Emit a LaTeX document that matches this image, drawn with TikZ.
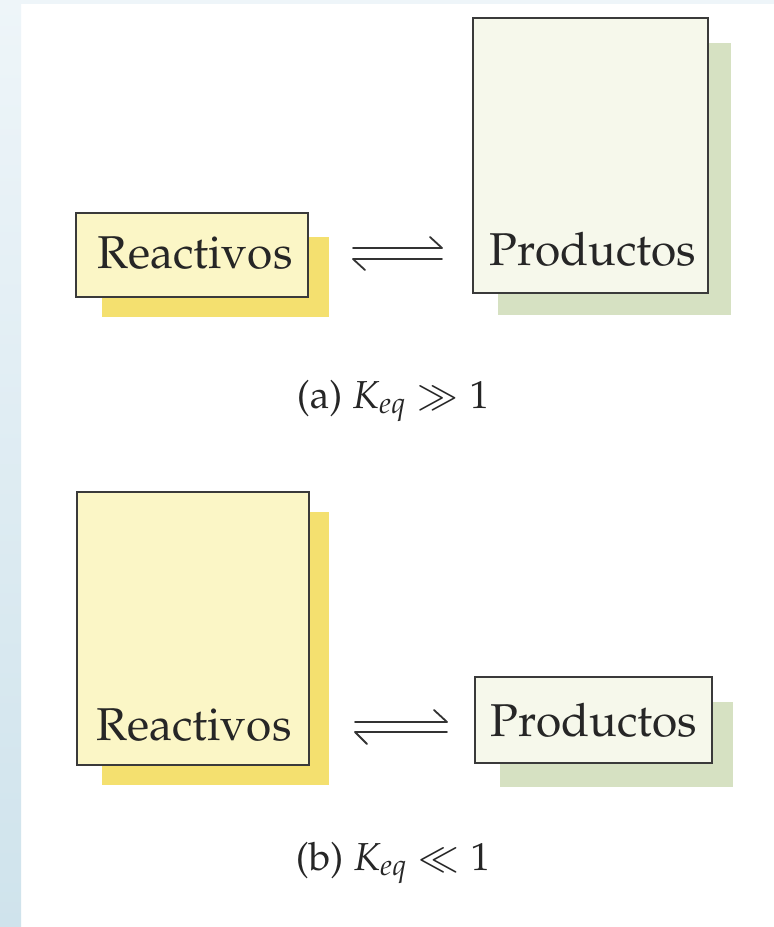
\documentclass[tikz,border=0pt]{standalone}
\usepackage[T1]{fontenc}
\usepackage{mathpazo}
\definecolor{reacfill}{HTML}{FBF6C6}
\definecolor{reacshadow}{HTML}{F4E06F}
\definecolor{prodfill}{HTML}{F6F8EB}
\definecolor{prodshadow}{HTML}{D6E1C2}
\definecolor{framecol}{HTML}{3A3A3A}
\definecolor{stripTop}{HTML}{EEF5F9}
\definecolor{stripBot}{HTML}{CFE3EC}
\begin{document}
\begin{tikzpicture}[x=1pt,y=-1pt,
  boxbase/.style={rectangle, inner sep=0pt, draw=framecol, line width=1.3pt},
  reacbox/.style={boxbase, fill=reacfill},
  prodbox/.style={boxbase, fill=prodfill},
  shadowbox/.style={rectangle, inner sep=0pt, draw=none},
  lbl/.style={font=\fontsize{46}{50}\selectfont, text=black!85, inner sep=0pt, anchor=base},
  capt/.style={font=\fontsize{39}{44}\selectfont, text=black!85, inner sep=0pt, anchor=base},
  harp/.style={line width=1.8pt, draw=black!80, line join=round, line cap=round}]
% canvas
\fill[white] (0,0) rectangle (774,927);
\shade[top color=stripTop, bottom color=stripBot] (0,0) rectangle (21,927);
\fill[stripTop] (21,0) rectangle (774,4);
\useasboundingbox (0,0) rectangle (774,927);

% ---- (a) ----
\node[shadowbox, fill=reacshadow, minimum width=227, minimum height=80] (R1s) at (215.5,277) {};
\node[reacbox, minimum width=232, minimum height=84] (R1) at (192,255) {};
\node[lbl] (R1t) at (195,268) {Reactivos};

\node[shadowbox, fill=prodshadow, minimum width=233, minimum height=272] (P1s) at (614.5,179) {};
\node[prodbox, minimum width=235, minimum height=275] (P1) at (590.5,155.5) {};
\node[lbl] (P1t) at (593,265) {Productos};

\coordinate (a1ul) at (353,248);
\coordinate (a1ur) at (442,248);
\coordinate (a1uh) at (430,237);
\coordinate (a1ll) at (353,259);
\coordinate (a1lr) at (442,259);
\coordinate (a1lh) at (365,270);
\draw[harp] (a1ul) -- (a1ur) -- (a1uh);
\draw[harp] (a1lh) -- (a1ll) -- (a1lr);

\node[capt] (capa) at (393,408) {(a) $K_{eq} \gg 1$};

% ---- (b) ----
\node[shadowbox, fill=reacshadow, minimum width=227, minimum height=273] (R2s) at (215.5,648.5) {};
\node[reacbox, minimum width=232, minimum height=273] (R2) at (193,628.5) {};
\node[lbl] (R2t) at (194,740) {Reactivos};

\node[shadowbox, fill=prodshadow, minimum width=233, minimum height=85] (P2s) at (616.5,744.5) {};
\node[prodbox, minimum width=237, minimum height=86] (P2) at (593.5,720) {};
\node[lbl] (P2t) at (594,736) {Productos};

\coordinate (a2ul) at (355,722);
\coordinate (a2ur) at (447,722);
\coordinate (a2uh) at (434,710);
\coordinate (a2ll) at (355,732);
\coordinate (a2lr) at (447,732);
\coordinate (a2lh) at (367,744);
\draw[harp] (a2ul) -- (a2ur) -- (a2uh);
\draw[harp] (a2lh) -- (a2ll) -- (a2lr);

\node[capt] (capb) at (393,870) {(b) $K_{eq} \ll 1$};
\end{tikzpicture}
\end{document}
